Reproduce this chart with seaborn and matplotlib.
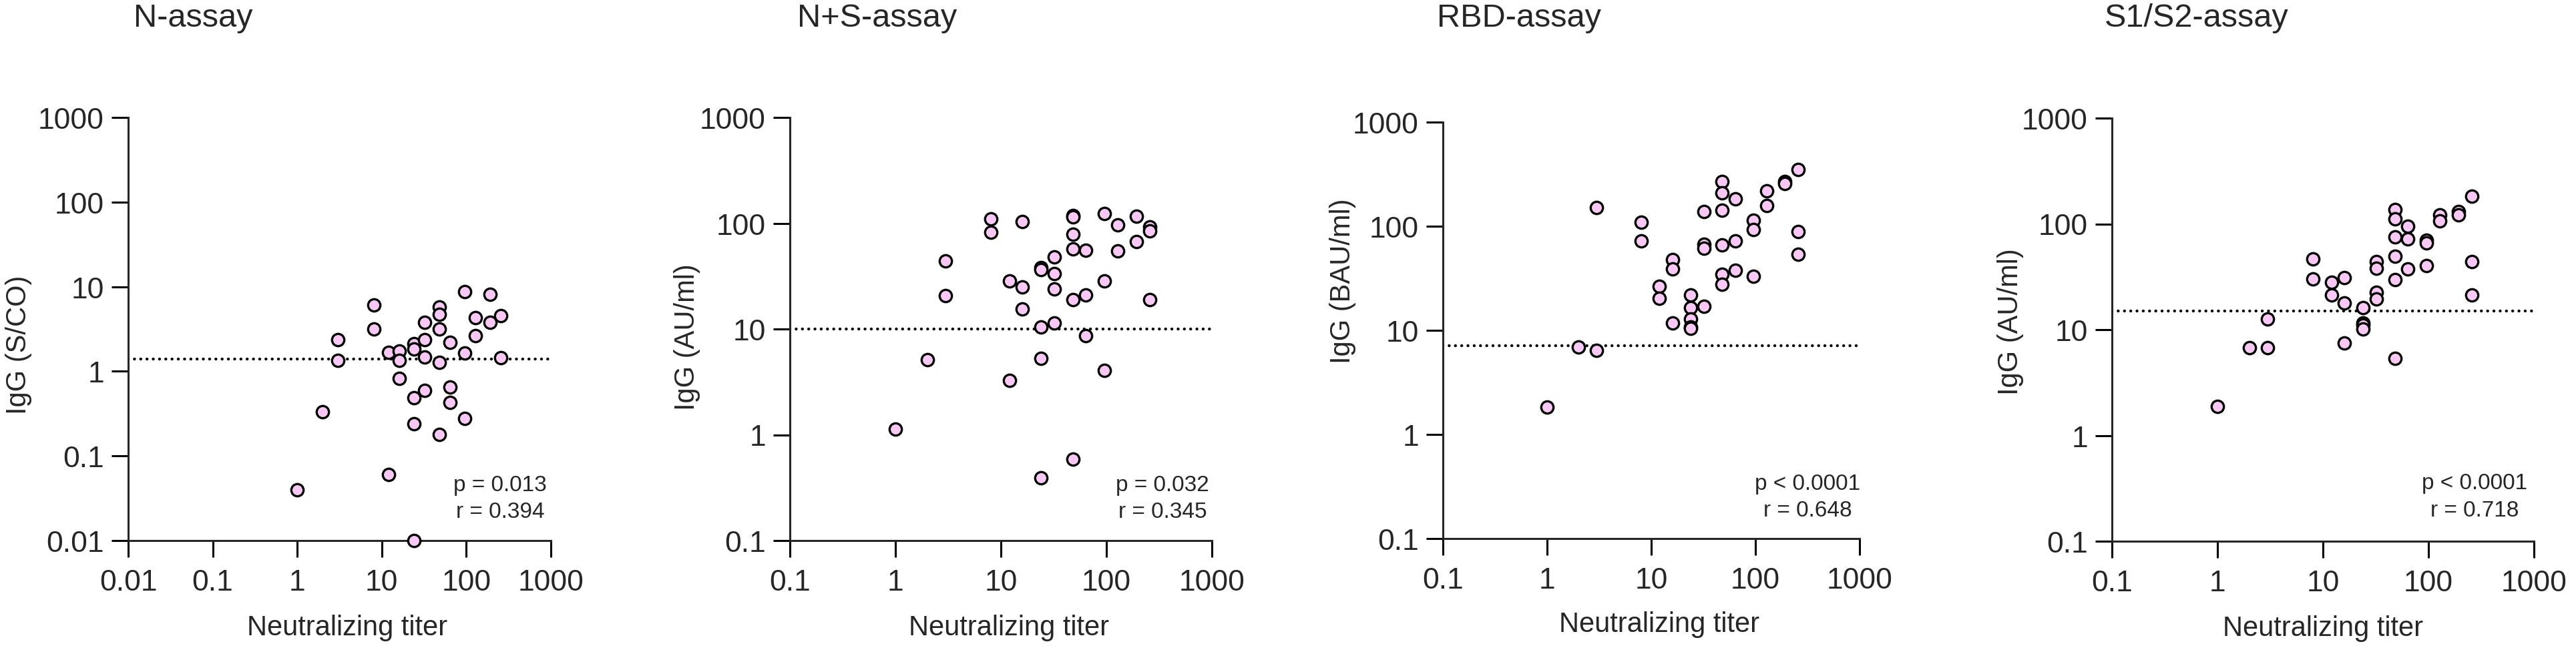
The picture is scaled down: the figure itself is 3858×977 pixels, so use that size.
import matplotlib
matplotlib.use("Agg")
import matplotlib.pyplot as plt
import seaborn as sns
import pandas as pd

# neutralizing titer of each subject, per assay panel
n_titer = [1, 2, 3, 3, 8, 8, 12, 12, 16, 16, 16, 24, 24, 24, 24, 24, 32, 32, 32, 32,
           48, 48, 48, 48, 48, 64, 64, 64, 96, 96, 96, 128, 128, 192, 192, 256, 256]
n_igg = [0.04, 0.33, 2.37, 1.34, 6.07, 3.18, 1.68, 0.06, 1.74, 1.34, 0.83, 2.11, 1.85, 0.49,
         0.24, 0.01, 3.81, 2.37, 1.47, 0.59, 5.74, 4.73, 3.18, 1.28, 0.18, 2.19, 0.65, 0.43,
         8.73, 1.65, 0.28, 4.32, 2.65, 8.15, 3.77, 4.57, 1.44]

ns_titer = [1, 2, 3, 3, 8, 8, 12, 12, 16, 16, 16, 24, 24, 24, 24, 24, 32, 32, 32, 32,
            48, 48, 48, 48, 48, 48, 64, 64, 64, 96, 96, 96, 128, 128, 192, 192, 256, 256, 256]
ns_igg = [1.13, 5.1, 43.7, 20.6, 110, 81.7, 28.3, 3.25, 104, 24.9, 15.4, 38.1, 36.5, 10.4,
          5.3, 0.39, 47.9, 33.3, 23.8, 11.4, 119, 114, 78.8, 57.4, 19, 0.59, 55.8, 21.1, 8.7,
          124, 28.5, 4.06, 96.2, 54.8, 116, 67, 91.8, 84.5, 19]

rbd_titer = [1, 2, 3, 3, 8, 8, 12, 12, 16, 16, 16, 24, 24, 24, 24, 24, 32, 32, 32, 32,
             48, 48, 48, 48, 48, 48, 64, 64, 64, 96, 96, 96, 128, 128, 192, 192, 256, 256, 256]
rbd_igg = [1.82, 6.9, 151, 6.4, 110, 72.4, 26.3, 20.3, 47.9, 39.1, 11.8, 21.9, 16.6, 12.9,
           10.8, 10.5, 138, 67.3, 61.4, 16.9, 270, 209, 142, 66, 34.7, 27.5, 182, 72.4, 38,
           115, 92.9, 33.1, 219, 158, 270, 256, 353, 88.7, 54]

s12_titer = [1, 2, 3, 3, 8, 8, 12, 12, 16, 16, 16, 24, 24, 24, 24, 32, 32, 32, 32,
             48, 48, 48, 48, 48, 48, 64, 64, 64, 96, 96, 96, 128, 128, 192, 192, 256, 256, 256]
s12_igg = [1.88, 6.8, 12.7, 6.8, 46.8, 30, 27.9, 21.2, 31.1, 18, 7.5, 16.2, 11.5, 11, 10.1,
           43.9, 38.3, 22.6, 19.4, 136, 112, 75.7, 49.4, 29.7, 5.35, 94.9, 72.3, 37.3,
           70.3, 66.1, 40.1, 121, 106, 130, 121, 184, 43.9, 21.2]

titles = ["N-assay", "N+S-assay", "RBD-assay", "S1/S2-assay"]
ylabels = ["IgG (S/CO)", "IgG (AU/ml)", "IgG (BAU/ml)", "IgG (AU/ml)"]
cutoffs = [1.4, 10, 7.1, 15]
stats = ["p = 0.013\nr = 0.394", "p = 0.032\nr = 0.345",
         "p < 0.0001\nr = 0.648", "p < 0.0001\nr = 0.718"]
ticks_n = [0.01, 0.1, 1, 10, 100, 1000]
ticks = [0.1, 1, 10, 100, 1000]
tick_labels_n = ["0.01", "0.1", "1", "10", "100", "1000"]
tick_labels = ["0.1", "1", "10", "100", "1000"]

panels = [(n_titer, n_igg), (ns_titer, ns_igg), (rbd_titer, rbd_igg), (s12_titer, s12_igg)]

sns.set_style("ticks")
plt.rcParams["font.family"] = ["Liberation Sans", "DejaVu Sans"]

W, H = 3858, 978
fig = plt.figure(figsize=(W / 100, H / 100), dpi=100)

# axes boxes in pixels: left, right, top, bottom
boxes = [(192, 825, 177, 811), (1183, 1815, 177, 811),
         (2161, 2785, 184, 808), (3163, 3795, 178, 812)]
title_x = [200, 1194, 2152, 3152]
ylab_pos = [(-0.259, 0.464), (-0.244, 0.483), (-0.24, 0.62), (-0.24, 0.52)]
xlab_x = [0.518, 0.519, 0.52, 0.50]
stat_pos = [(0.88, 0.10), (0.883, 0.10), (0.875, 0.10), (0.86, 0.106)]

for i, (tx, ig) in enumerate(panels):
    l, r, t, b = boxes[i]
    ax = fig.add_axes([l / W, (H - b) / H, (r - l) / W, (b - t) / H])
    df = pd.DataFrame({"titer": tx, "igg": ig})
    sns.scatterplot(data=df, x="titer", y="igg", ax=ax, s=175, color="#F8C8F4",
                    edgecolor="black", linewidth=2.4, clip_on=False, zorder=3)
    ax.set_xscale("log")
    ax.set_yscale("log")
    if i == 0:
        ax.set_xlim(0.01, 1000)
        ax.set_ylim(0.01, 1000)
        ax.set_xticks(ticks_n, tick_labels_n)
        ax.set_yticks(ticks_n, tick_labels_n)
    else:
        ax.set_xlim(0.1, 1000)
        ax.set_ylim(0.1, 1000)
        ax.set_xticks(ticks, tick_labels)
        ax.set_yticks(ticks, tick_labels)
    ax.minorticks_off()
    ax.axhline(cutoffs[i], color="black", linewidth=3.2, linestyle=(0, (0.01, 2.1)),
               dash_capstyle="round", zorder=2)
    for side in ["top", "right"]:
        ax.spines[side].set_visible(False)
    for side in ["left", "bottom"]:
        ax.spines[side].set_linewidth(2.2)
    ax.tick_params(axis="both", length=18, width=2.2, labelsize=32, color="black")
    ax.tick_params(axis="x", pad=12)
    ax.tick_params(axis="y", pad=8)
    ax.set_xlabel("Neutralizing titer", fontsize=30)
    ax.set_ylabel(ylabels[i], fontsize=30)
    ax.xaxis.set_label_coords(xlab_x[i], -0.205)
    ax.xaxis.label.set_va("center")
    ax.yaxis.set_label_coords(*ylab_pos[i])
    ax.yaxis.label.set_va("center")
    ax.text(stat_pos[i][0], stat_pos[i][1], stats[i], transform=ax.transAxes,
            ha="center", va="center", fontsize=24, linespacing=1.4)
    fig.text(title_x[i] / W, 1 - 28 / H, titles[i], ha="left", va="center", fontsize=35)

fig.savefig("out.png", dpi=100)
